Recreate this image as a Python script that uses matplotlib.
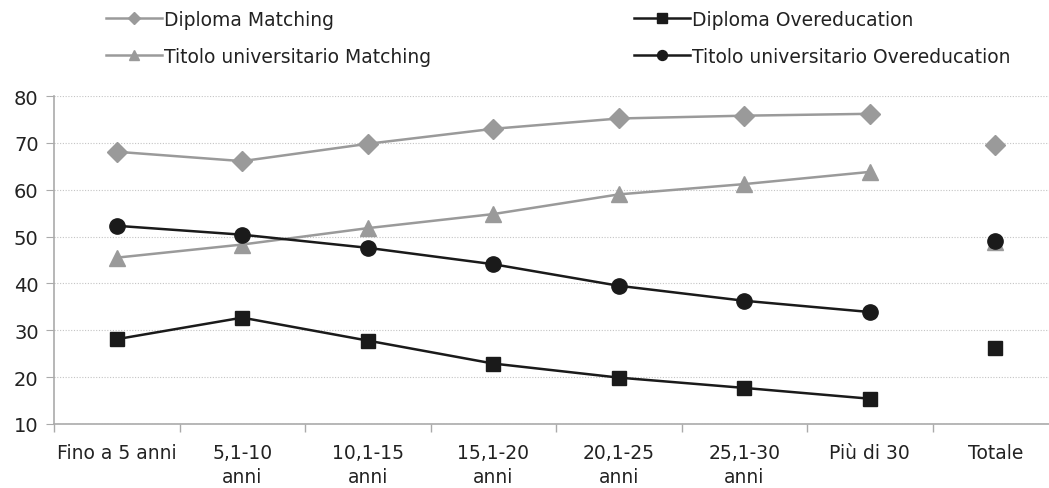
import matplotlib
matplotlib.use("Agg")
import matplotlib.pyplot as plt
import numpy as np

categories = ["Fino a 5 anni", "5,1-10\nanni", "10,1-15\nanni", "15,1-20\nanni",
              "20,1-25\nanni", "25,1-30\nanni", "Più di 30", "Totale"]
diploma_matching = [68.1, 66.1, 69.8, 73.0, 75.2, 75.8, 76.2]
diploma_matching_tot = 69.6
titolo_matching = [45.5, 48.3, 51.8, 54.8, 59.0, 61.2, 63.8]
titolo_matching_tot = 48.8
diploma_over = [28.1, 32.7, 27.8, 22.9, 19.9, 17.7, 15.4]
diploma_over_tot = 26.3
titolo_over = [52.3, 50.4, 47.6, 44.1, 39.5, 36.3, 33.9]
titolo_over_tot = 49.1
yticks = [10, 20, 30, 40, 50, 60, 70, 80]

plt.rcParams['font.family'] = ['DejaVu Sans']

fig = plt.figure(figsize=(10.49, 4.89), dpi=100)
W, H = 1049, 489
left, right = 54, 1058
top, bottom = 97, 425
ax = fig.add_axes([left / W, 1 - bottom / H, (right - left) / W, (bottom - top) / H])

gray = "#9a9a9a"
black = "#1a1a1a"
n = len(diploma_matching)
x = np.arange(n)
tot_x = len(categories) - 1

series = [
    (diploma_matching, diploma_matching_tot, gray, "D", 10, "Diploma Matching"),
    (titolo_matching, titolo_matching_tot, gray, "^", 11, "Titolo universitario Matching"),
    (diploma_over, diploma_over_tot, black, "s", 10.5, "Diploma Overeducation"),
    (titolo_over, titolo_over_tot, black, "o", 11, "Titolo universitario Overeducation"),
]
handles = {}
for vals, tot, col, mk, ms, lab in series:
    h, = ax.plot(x, vals, color=col, lw=1.8, marker=mk, ms=ms, mfc=col, mec=col,
                 label=lab, clip_on=False, zorder=3)
    ax.plot([tot_x], [tot], color=col, marker=mk, ms=ms, mfc=col, mec=col,
            ls="none", clip_on=False, zorder=3)
    handles[lab] = h

ax.set_ylim(10, 80)
ax.set_yticks(yticks)
ax.set_xlim(-0.5, len(categories) - 0.5)
ax.set_xticks(np.arange(len(categories)))
ax.set_xticklabels(categories, fontsize=13.5, color="#222222", linespacing=1.3)
ax.set_xticks(np.arange(len(categories) + 1) - 0.5, minor=True)
ax.tick_params(axis="x", which="major", length=0, pad=14)
ax.tick_params(axis="x", which="minor", length=6, color="#aaaaaa", width=1)
ax.tick_params(axis="y", length=6, color="#aaaaaa", labelsize=14, labelcolor="#222222", pad=5)
ax.yaxis.grid(True, color="#c4c4c4", ls=(0, (1, 1.5)), lw=0.8)
ax.set_axisbelow(True)
for s in ["top", "right"]:
    ax.spines[s].set_visible(False)
for s in ["left", "bottom"]:
    ax.spines[s].set_color("#aaaaaa")
    ax.spines[s].set_linewidth(1.2)

order = ["Diploma Matching", "Titolo universitario Matching",
         "Diploma Overeducation", "Titolo universitario Overeducation"]
leg = fig.legend([handles[k] for k in order], order, ncol=2, loc="upper left",
                 bbox_to_anchor=(89 / W, 1 + 6 / H), frameon=False, fontsize=13.5,
                 handlelength=3.0, handletextpad=0.1, columnspacing=10.8,
                 labelspacing=0.95, markerscale=0.65)
for t in leg.get_texts():
    t.set_color("#222222")

fig.savefig("out.png", dpi=100)
